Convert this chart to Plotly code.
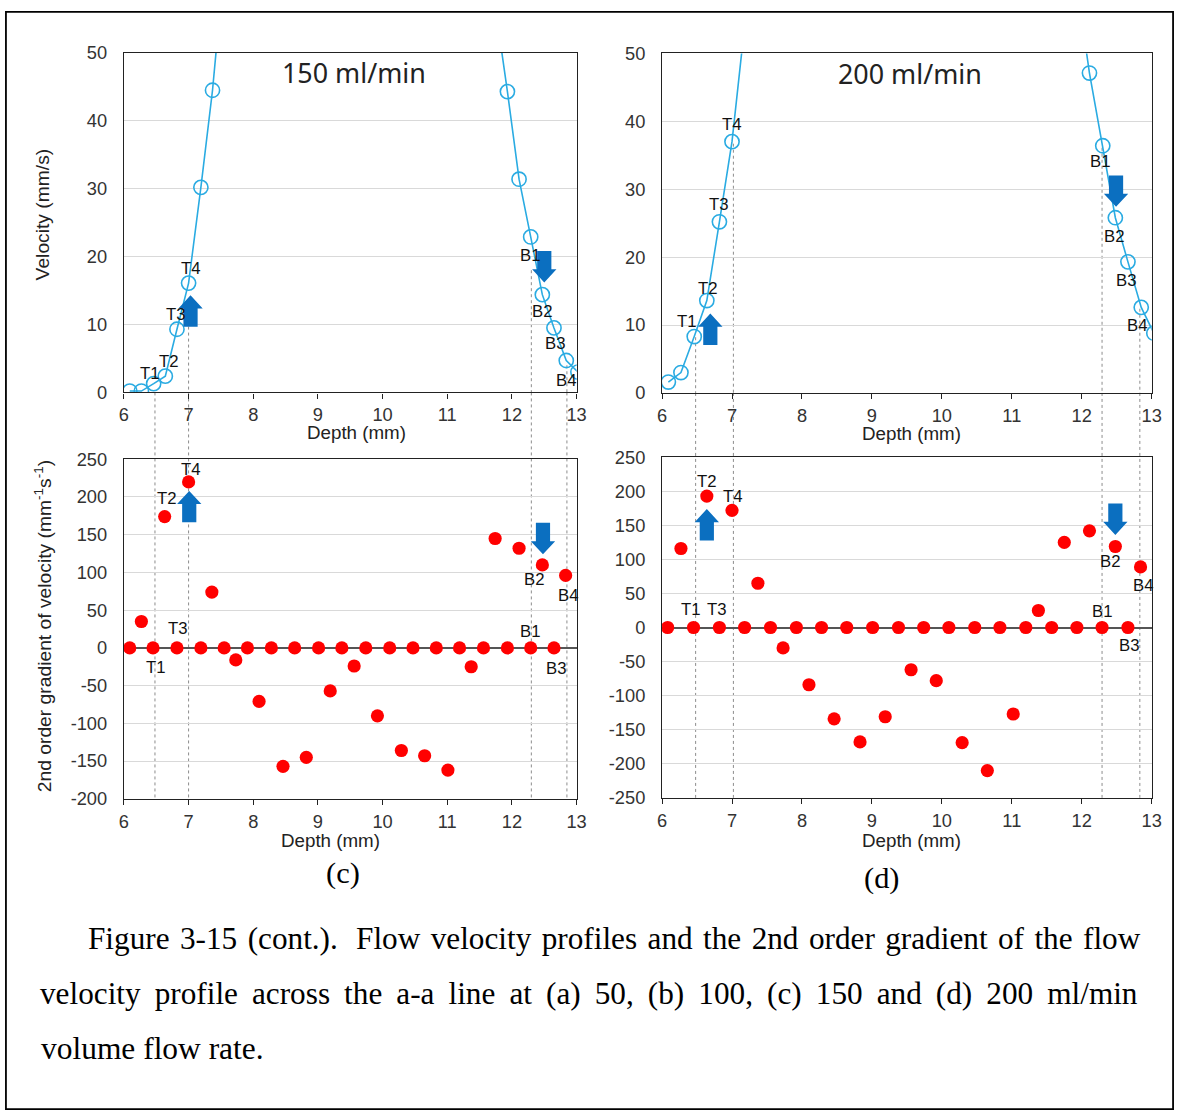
import plotly.graph_objects as go

W, H = 1184, 1120

# ---------------- data ----------------
vel150_depth = [6.09, 6.27, 6.46, 6.64, 6.82, 7.00, 7.19, 7.37, 7.55,
                11.74, 11.93, 12.11, 12.29, 12.47, 12.65, 12.84, 13.02]
vel150 = [0.2, 0.2, 1.3, 2.4, 9.3, 16.1, 30.2, 44.5, 63.0,
          57.0, 44.3, 31.4, 22.9, 14.4, 9.5, 4.7, 3.0]

vel200_depth = [6.09, 6.27, 6.46, 6.64, 6.82, 7.00, 7.19,
                11.93, 12.11, 12.30, 12.48, 12.66, 12.85, 13.03]
vel200 = [1.6, 3.0, 8.3, 13.6, 25.2, 37.0, 55.0,
          60.0, 47.1, 36.4, 25.8, 19.3, 12.6, 8.8]

grad150_depth = [6.09, 6.27, 6.45, 6.63, 6.82, 7.00, 7.19, 7.36, 7.55, 7.73,
                 7.91, 8.09, 8.28, 8.46, 8.64, 8.82, 9.01, 9.19, 9.37, 9.56,
                 9.74, 9.92, 10.11, 10.29, 10.47, 10.65, 10.83, 11.01, 11.19, 11.37,
                 11.56, 11.74, 11.93, 12.11, 12.29, 12.47, 12.65, 12.83]
grad150 = [0, 35, 0, 174, 0, 220, 0, 74, 0, -16,
           0, -71, 0, -157, 0, -145, 0, -57, 0, -24,
           0, -90, 0, -136, 0, -143, 0, -162, 0, -25,
           0, 145, 0, 132, 0, 110, 0, 96]

grad200_depth = [6.08, 6.27, 6.45, 6.64, 6.82, 7.00, 7.18, 7.37, 7.55, 7.73,
                 7.92, 8.10, 8.28, 8.46, 8.64, 8.83, 9.01, 9.19, 9.38, 9.56,
                 9.74, 9.92, 10.10, 10.29, 10.47, 10.65, 10.83, 11.02, 11.20, 11.38,
                 11.57, 11.75, 11.93, 12.11, 12.29, 12.48, 12.66, 12.84]
grad200 = [0, 116, 0, 193, 0, 172, 0, 65, 0, -30,
           0, -84, 0, -134, 0, -168, 0, -131, 0, -62,
           0, -78, 0, -169, 0, -210, 0, -127, 0, 25,
           0, 125, 0, 142, 0, 119, 0, 89]

# point labels: (text, depth, value)
labels_vel150 = [("T1", 6.41, 2.8), ("T2", 6.69, 4.6), ("T3", 6.80, 11.5), ("T4", 7.04, 18.2),
                 ("B1", 12.28, 20.2), ("B2", 12.47, 11.9), ("B3", 12.66, 7.2), ("B4", 12.83, 1.8)]
labels_vel200 = [("T1", 6.35, 10.5), ("T2", 6.65, 15.4), ("T3", 6.82, 27.8), ("T4", 7.00, 39.5),
                 ("B1", 12.26, 34.1), ("B2", 12.46, 23.0), ("B3", 12.63, 16.6), ("B4", 12.79, 9.9)]
labels_grad150 = [("T1", 6.49, -26), ("T2", 6.67, 198), ("T3", 6.83, 26), ("T4", 7.04, 237),
                  ("B1", 12.28, 22), ("B2", 12.34, 90), ("B3", 12.68, -27), ("B4", 12.86, 69)]
labels_grad200 = [("T1", 6.42, 26), ("T2", 6.64, 214), ("T3", 6.79, 26), ("T4", 7.02, 192),
                  ("B1", 12.29, 24), ("B2", 12.41, 97), ("B3", 12.67, -26), ("B4", 12.88, 61)]

# block arrows: (direction, depth, tip value)
arrows150_vel = [("up", 7.03, 14.3), ("down", 12.50, 16.2)]
arrows200_vel = [("up", 6.69, 11.7), ("down", 12.49, 27.4)]
arrows150_grad = [("up", 7.01, 208), ("down", 12.48, 124)]
arrows200_grad = [("up", 6.64, 174), ("down", 12.48, 136)]

# dashed guide lines: (depth, start value on velocity chart)
guides150 = [(6.48, 0), (7.00, 9.7), (12.30, 18.0), (12.85, 4.0)]
guides200 = [(6.48, 8.2), (7.02, 36.7), (12.29, 36.1), (12.83, 12.4)]

x_ticks = [6, 7, 8, 9, 10, 11, 12, 13]
vel_ticks = [0, 10, 20, 30, 40, 50]
grad150_ticks = [-200, -150, -100, -50, 0, 50, 100, 150, 200, 250]
grad200_ticks = [-250, -200, -150, -100, -50, 0, 50, 100, 150, 200, 250]

# ---------------- styles ----------------
SANS = "Liberation Sans, Arial, sans-serif"
SERIF = "Liberation Serif, Times New Roman, serif"
CYAN = "#2AABE2"
RED = "#FF0000"
BLUE = "#0B6FC0"
GRID = "#D9D9D9"
TICKC = "#333333"

# the captured page is slightly shrunk/offset: compensate so marks land where the reference has them
AX, BX = 0.988, 4.5
AY, BY = 0.984, 8.5
K = 1 / 0.986  # size compensation


def px(xp):
    return (xp - BX) / AX / W


def py(yp):
    return 1 - (yp - BY) / AY / H


def fs(size):
    return round(size * K, 2)


dom = {
    1: ([px(123.5), px(576.5)], [py(391), py(50.5)]),
    2: ([px(662), px(1152)], [py(391.5), py(51)]),
    3: ([px(123.5), px(576.5)], [py(798.5), py(458)]),
    4: ([px(662), px(1152)], [py(797.5), py(456)]),
}
yranges = {1: [0, 50], 2: [0, 50], 3: [-200, 250], 4: [-250, 250]}
yticks = {1: vel_ticks, 2: vel_ticks, 3: grad150_ticks, 4: grad200_ticks}

fig = go.Figure()

open_marker = dict(symbol="circle-open", size=fs(14), color=CYAN, line=dict(width=1.6))
fig.add_trace(go.Scatter(x=vel150_depth, y=vel150, mode="lines+markers",
                         line=dict(color=CYAN, width=1.6), marker=open_marker,
                         xaxis="x", yaxis="y", showlegend=False))
fig.add_trace(go.Scatter(x=vel200_depth, y=vel200, mode="lines+markers",
                         line=dict(color=CYAN, width=1.6), marker=open_marker,
                         xaxis="x2", yaxis="y2", showlegend=False))
fig.add_trace(go.Scatter(x=grad150_depth, y=grad150, mode="markers",
                         marker=dict(symbol="circle", size=fs(13), color=RED),
                         xaxis="x3", yaxis="y3", showlegend=False))
fig.add_trace(go.Scatter(x=grad200_depth, y=grad200, mode="markers",
                         marker=dict(symbol="circle", size=fs(13), color=RED),
                         xaxis="x4", yaxis="y4", showlegend=False))

layout = dict(
    width=W, height=H, margin=dict(l=0, r=0, t=0, b=0),
    paper_bgcolor="white", plot_bgcolor="rgba(0,0,0,0)",
    showlegend=False,
)
for i in range(1, 5):
    xs = "" if i == 1 else str(i)
    layout["xaxis" + xs] = dict(
        domain=dom[i][0], anchor="y" + xs, range=[6, 13],
        tickvals=x_ticks, ticktext=[str(v) for v in x_ticks],
        showgrid=False, zeroline=False, showline=True, linecolor="#222222", linewidth=1.2,
        mirror=True, ticks="outside", ticklen=5, tickcolor="#222222", tickwidth=1,
        tickfont=dict(family=SANS, size=fs(18), color=TICKC), ticklabelstandoff=1,
    )
    layout["yaxis" + xs] = dict(
        domain=dom[i][1], anchor="x" + xs, range=yranges[i],
        tickvals=yticks[i], ticktext=[str(v) for v in yticks[i]],
        showgrid=True, gridcolor=GRID, gridwidth=1,
        zeroline=(i >= 3), zerolinecolor="#555555", zerolinewidth=1.5,
        showline=True, linecolor="#222222", linewidth=1.2, mirror=True,
        ticks="", tickfont=dict(family=SANS, size=fs(18), color=TICKC), ticklabelstandoff=12,
    )
fig.update_layout(**layout)

shapes = []
annotations = []


def note(text, xp, yp, size, family=SANS, color="#222222", angle=0, xanchor="center"):
    annotations.append(dict(text=text, x=px(xp), y=py(yp), xref="paper", yref="paper",
                            xanchor=xanchor, yanchor="middle", textangle=angle, showarrow=False,
                            font=dict(family=family, size=fs(size), color=color)))


# dashed guides
for guides, xa, ya, top_bottom_px, bottom_px in [
        (guides150, "x", "y", 391, 798.5), (guides200, "x2", "y2", 391.5, 797.5)]:
    for d, v0 in guides:
        if v0 > 0:
            shapes.append(dict(type="line", xref=xa, yref=ya, x0=d, x1=d, y0=v0, y1=0,
                               line=dict(color="#8C8C8C", width=1, dash="3px,3px"), layer="below"))
        shapes.append(dict(type="line", xref=xa, yref="paper", x0=d, x1=d,
                           y0=py(top_bottom_px), y1=py(bottom_px),
                           line=dict(color="#8C8C8C", width=1, dash="3px,3px"), layer="below"))

# block arrows (pixel-sized paths anchored at the tip)
hw, hh, bw, th = 12 * K, 13 * K, 7 * K, 31 * K
up_path = (f"M 0 0 L {hw:.2f} {-hh:.2f} L {bw:.2f} {-hh:.2f} L {bw:.2f} {-th:.2f} "
           f"L {-bw:.2f} {-th:.2f} L {-bw:.2f} {-hh:.2f} L {-hw:.2f} {-hh:.2f} Z")
down_path = (f"M 0 0 L {hw:.2f} {hh:.2f} L {bw:.2f} {hh:.2f} L {bw:.2f} {th:.2f} "
             f"L {-bw:.2f} {th:.2f} L {-bw:.2f} {hh:.2f} L {-hw:.2f} {hh:.2f} Z")
for arrows, xa, ya in [(arrows150_vel, "x", "y"), (arrows200_vel, "x2", "y2"),
                       (arrows150_grad, "x3", "y3"), (arrows200_grad, "x4", "y4")]:
    for direction, d, v in arrows:
        shapes.append(dict(type="path", xref=xa, yref=ya, xsizemode="pixel", ysizemode="pixel",
                           xanchor=d, yanchor=v, path=up_path if direction == "up" else down_path,
                           fillcolor=BLUE, line=dict(width=0), layer="above"))

# point labels
for labels, xa, ya in [(labels_vel150, "x", "y"), (labels_vel200, "x2", "y2"),
                       (labels_grad150, "x3", "y3"), (labels_grad200, "x4", "y4")]:
    for t, d, v in labels:
        annotations.append(dict(text=t, x=d, y=v, xref=xa, yref=ya, showarrow=False,
                                xanchor="center", yanchor="middle",
                                font=dict(family=SANS, size=fs(16.5), color="#111111")))

# titles inside charts
note("150 ml/min", 354, 70, 26.5, family="Noto Sans")
note("200 ml/min", 910, 71, 26.5, family="Noto Sans")

# axis titles
for (xp, yp) in [(356, 431), (912, 432), (330, 840), (912, 840)]:
    note("Depth (mm)", xp, yp, 18.5)
note("Velocity (mm/s)", 42, 212, 19, angle=-90)
note("2nd order gradient of velocity (mm<sup>-1</sup>s<sup>-1</sup>)", 42, 625, 19, angle=-90)

# panel labels
note("(c)", 343, 873, 30, family=SERIF, color="#000000")
note("(d)", 882, 878, 30, family=SERIF, color="#000000")

# caption
S = "\u00a0"
T = "\u2009"
HS = "\u200a"
cap1_words = ["Figure", "3-15", "(cont.)." + S, "Flow", "velocity", "profiles", "and", "the",
              "2nd", "order", "gradient", "of", "the", "flow"]
cap1 = (HS + " ").join(cap1_words)
cap2 = (T + " ").join(["velocity", "profile", "across", "the", "a-a", "line", "at", "(a)", "50,",
                       "(b)", "100,", "(c)", "150", "and", "(d)", "200", "ml/min"])
cap3 = "volume flow rate."
note(cap1, 86, 939, 30.8, family=SERIF, color="#000000", xanchor="left")
note(cap2, 38, 994, 30.8, family=SERIF, color="#000000", xanchor="left")
note(cap3, 39, 1049, 31, family=SERIF, color="#000000", xanchor="left")

# outer border (at the edge of the drawable page)
shapes.append(dict(type="rect", xref="paper", yref="paper", x0=0.0008, x1=0.9992,
                   y0=0.0008, y1=0.9992, line=dict(color="#000000", width=1.8), layer="above"))

fig.update_layout(shapes=shapes, annotations=annotations)
fig.write_html("out.html")
